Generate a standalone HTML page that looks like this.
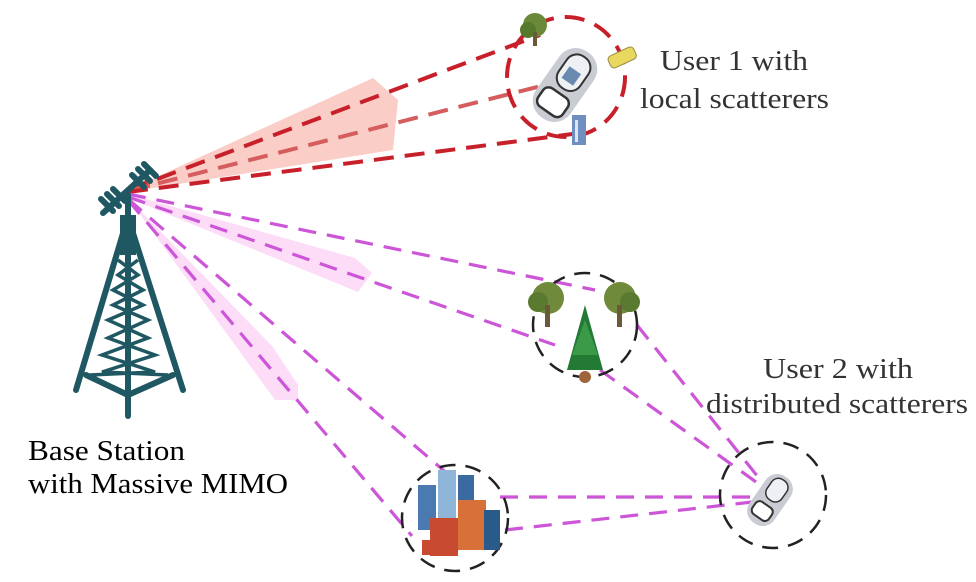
<!DOCTYPE html>
<html><head><meta charset="utf-8"><style>
html,body{margin:0;padding:0;background:#fff;}
svg{display:block;}
text{font-family:"Liberation Serif",serif;}
</style></head><body>
<svg width="976" height="582" viewBox="0 0 976 582" xmlns="http://www.w3.org/2000/svg">
<rect width="976" height="582" fill="#fff"/>
<polygon points="128,190 373,78 398,100 393,150 128,192" fill="#fbcdc7"/>
<polygon points="128,194 355,258 372,273 358,292 128,198" fill="#fcdcf7"/>
<polygon points="128,198 273,347 298,385 298,400 275,400" fill="#fcdcf7"/>
<polygon points="128,188 150,178 150,188" fill="#e85a50"/>
<g stroke="#c8202a" stroke-width="4" stroke-dasharray="20,11" fill="none">
<line x1="128" y1="190" x2="540" y2="35"/>
<line x1="128" y1="191" x2="545" y2="85" stroke="#d55d5d"/>
<line x1="128" y1="192" x2="588" y2="132"/>
<ellipse cx="566" cy="77" rx="59" ry="60"/>
</g>
<g stroke="#cc55d8" stroke-width="3.2" stroke-dasharray="18,11" fill="none">
<line x1="128" y1="194" x2="595" y2="290"/>
<line x1="128" y1="197" x2="555" y2="345"/>
<line x1="128" y1="199" x2="450" y2="476"/>
<line x1="128" y1="200" x2="412" y2="536"/>
<line x1="637" y1="325" x2="770" y2="492"/>
<line x1="600" y1="370" x2="770" y2="492"/>
<line x1="500" y1="497" x2="770" y2="497"/>
<line x1="505" y1="530" x2="770" y2="500"/>
</g>
<g stroke="#222" stroke-width="2.5" stroke-dasharray="16,10" fill="none">
<circle cx="585" cy="325" r="52"/>
<circle cx="455" cy="518" r="53"/>
<circle cx="773" cy="495" r="53"/>
</g>
<g stroke="#1f5862" stroke-width="6" fill="none" stroke-linecap="round">
<line x1="103" y1="213" x2="150" y2="170"/>
<line x1="101" y1="199" x2="113" y2="211"/><line x1="107" y1="194" x2="119" y2="206"/><line x1="113" y1="189" x2="125" y2="201"/>
<line x1="132" y1="175" x2="144" y2="187"/><line x1="138" y1="169" x2="150" y2="181"/><line x1="144" y1="164" x2="156" y2="176"/>
<line x1="128" y1="195" x2="128" y2="416"/>
<line x1="124" y1="230" x2="76" y2="390"/>
<line x1="132" y1="230" x2="183" y2="390"/>
<line x1="86" y1="375" x2="128" y2="395"/><line x1="173" y1="375" x2="128" y2="395"/>
</g>
<rect x="120" y="215" width="16" height="40" fill="#1f5862"/>
<g stroke="#1f5862" stroke-width="3.5" fill="none">
<path d="M118,260 L138,275 L113,290 L143,305 L108,320 L148,338 L102,355 L155,372 L90,375 M138,260 L118,275 L143,290 L113,305 L148,320 L108,338 L155,355 L102,372 L168,375"/>
</g>
<g transform="translate(565,85) rotate(35)">
<rect x="-21" y="-40" width="42" height="80" rx="20" fill="#c9ccd2"/>
<rect x="-13" y="-34" width="26" height="38" rx="12" fill="#eef0f4" stroke="#333" stroke-width="2"/>
<rect x="-7" y="-18" width="14" height="14" fill="#6a8ab0"/>
<rect x="-15" y="10" width="30" height="22" rx="7" fill="#fff" stroke="#333" stroke-width="2.5"/>
</g>
<circle cx="535" cy="25" r="12" fill="#6a8a3a"/><circle cx="528" cy="30" r="8" fill="#557a2c"/><rect x="533" y="32" width="4" height="14" fill="#6b5a3a"/>
<g transform="translate(622,57) rotate(-25)"><rect x="-14" y="-6" width="28" height="13" rx="4" fill="#e8d860" stroke="#9a8a40"/></g>
<rect x="572" y="115" width="14" height="30" fill="#6f8fc0"/><rect x="575" y="120" width="3" height="22" fill="#dbe6f5"/>
<g>
<circle cx="548" cy="298" r="16" fill="#6f8a3a"/><circle cx="538" cy="302" r="10" fill="#5a7a30"/><rect x="545" y="305" width="5" height="22" fill="#6b5a3a"/>
<circle cx="620" cy="298" r="16" fill="#6f8a3a"/><circle cx="630" cy="302" r="10" fill="#5a7a30"/><rect x="617" y="305" width="5" height="22" fill="#6b5a3a"/>
<polygon points="585,305 603,370 567,370" fill="#237a35"/>
<polygon points="585,320 598,355 572,355" fill="#3a9a48"/>
<circle cx="585" cy="377" r="6" fill="#a0643a"/>
</g>
<g>
<rect x="418" y="485" width="18" height="45" fill="#4a7ab0"/>
<rect x="438" y="470" width="18" height="55" fill="#8fb5d8"/>
<rect x="458" y="475" width="16" height="40" fill="#3a6aa0"/>
<rect x="430" y="518" width="28" height="38" fill="#c84a30"/>
<rect x="458" y="500" width="28" height="50" fill="#d8703a"/>
<rect x="484" y="510" width="16" height="40" fill="#2a5a8a"/>
<rect x="422" y="540" width="12" height="15" fill="#c84a30"/>
</g>
<g transform="translate(770,500) rotate(35)">
<rect x="-15" y="-28" width="30" height="56" rx="14" fill="#c9ccd2"/>
<rect x="-9" y="-24" width="18" height="24" rx="8" fill="#eef0f4" stroke="#333" stroke-width="1.5"/>
<rect x="-10" y="6" width="20" height="15" rx="5" fill="#fff" stroke="#333" stroke-width="2"/>
</g>
<g fill="#333" font-size="29">
<text x="660" y="70" textLength="148" lengthAdjust="spacingAndGlyphs">User 1 with</text>
<text x="640" y="108" textLength="189" lengthAdjust="spacingAndGlyphs">local scatterers</text>
<text x="763" y="378" textLength="150" lengthAdjust="spacingAndGlyphs">User 2 with</text>
<text x="706" y="413" textLength="262" lengthAdjust="spacingAndGlyphs">distributed scatterers</text>
</g>
<g fill="#000" font-size="28">
<text x="28" y="460" textLength="157" lengthAdjust="spacingAndGlyphs">Base Station</text>
<text x="28" y="493" textLength="260" lengthAdjust="spacingAndGlyphs">with Massive MIMO</text>
</g>
</svg>
</body></html>
